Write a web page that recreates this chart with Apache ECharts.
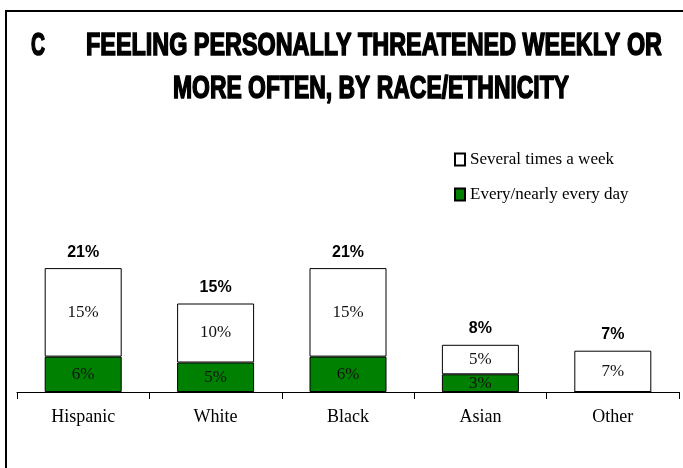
<!DOCTYPE html>
<html>
<head>
<meta charset="utf-8">
<script src="https://cdn.jsdelivr.net/npm/echarts@6/dist/echarts.min.js"></script>
<style>html,body{margin:0;padding:0;background:#fff;}#c{width:683px;height:468px;}</style>
</head>
<body>
<div id="c"></div>
<script>
const categories = ['Hispanic', 'White', 'Black', 'Asian', 'Other'];
const everyDay = [6, 5, 6, 3, 0];
const severalWeek = [15, 10, 15, 5, 7];
const totals = [21, 15, 21, 8, 7];
const titleLine1 = 'FEELING PERSONALLY THREATENED WEEKLY OR';
const titleLine2 = 'MORE OFTEN, BY RACE/ETHNICITY';
const titleLetter = 'C';

const chart = echarts.init(document.getElementById('c'), null, {renderer: 'canvas'});

const titleFont = 'bold 31px "Liberation Sans", Arial, sans-serif';
const mctx = document.createElement('canvas').getContext('2d');
mctx.font = titleFont;
function fitScale(text, target) { return target / mctx.measureText(text).width; }

const pctLabel = v => (v.value ? v.value + '%' : '');
const titleStyle = {font: titleFont, fill: '#000', stroke: '#000', lineWidth: 1.6, textAlign: 'left', textVerticalAlign: 'middle'};

chart.setOption({
  animation: false,
  backgroundColor: '#fff',
  graphic: [
    {type: 'rect', shape: {x: 6, y: 11, width: 720, height: 520},
     style: {fill: 'none', stroke: '#000', lineWidth: 2}, silent: true},
    {type: 'text', x: 31, y: 46, scaleX: fitScale(titleLetter, 14),
     style: Object.assign({text: titleLetter}, titleStyle)},
    {type: 'text', x: 86, y: 46, scaleX: fitScale(titleLine1, 576),
     style: Object.assign({text: titleLine1}, titleStyle)},
    {type: 'text', x: 173, y: 89, scaleX: fitScale(titleLine2, 396),
     style: Object.assign({text: titleLine2}, titleStyle)}
  ],
  legend: {
    data: ['Several times a week', 'Every/nearly every day'],
    orient: 'vertical',
    left: 449,
    top: 146,
    icon: 'rect',
    itemWidth: 10,
    itemHeight: 12,
    itemGap: 18,
    textStyle: {fontFamily: '"Liberation Serif", "Times New Roman", serif', fontSize: 17, color: '#000'}
  },
  grid: {left: 17, right: 4, top: 215, bottom: 76},
  xAxis: {
    type: 'category',
    data: categories,
    axisLine: {show: true, lineStyle: {color: '#000', width: 1}},
    axisTick: {show: true, alignWithLabel: false, interval: 0, length: 7, lineStyle: {color: '#000', width: 1}},
    axisLabel: {color: '#000', fontFamily: '"Liberation Serif", "Times New Roman", serif', fontSize: 18, margin: 16}
  },
  yAxis: {type: 'value', min: 0, max: 30, show: false, splitLine: {show: false}},
  series: [
    {
      name: 'Every/nearly every day', type: 'bar', stack: 'a', data: everyDay, barWidth: 77,
      itemStyle: {color: '#008000', borderColor: '#000', borderWidth: 1},
      label: {show: true, position: 'inside', formatter: pctLabel, color: '#111',
              fontFamily: '"Liberation Serif", "Times New Roman", serif', fontSize: 17}
    },
    {
      name: 'Several times a week', type: 'bar', stack: 'a', data: severalWeek, barWidth: 77,
      itemStyle: {color: '#fff', borderColor: '#000', borderWidth: 1},
      label: {show: true, position: 'inside', formatter: pctLabel, color: '#111',
              fontFamily: '"Liberation Serif", "Times New Roman", serif', fontSize: 17}
    },
    {
      name: 'Total', type: 'bar', data: totals, barWidth: 77, barGap: '-100%', silent: true,
      itemStyle: {color: 'rgba(0,0,0,0)'},
      label: {show: true, position: 'top', distance: 8, formatter: '{c}%', color: '#000',
              fontFamily: '"Liberation Sans", Arial, sans-serif', fontWeight: 'bold', fontSize: 16}
    }
  ]
});
</script>
</body>
</html>
